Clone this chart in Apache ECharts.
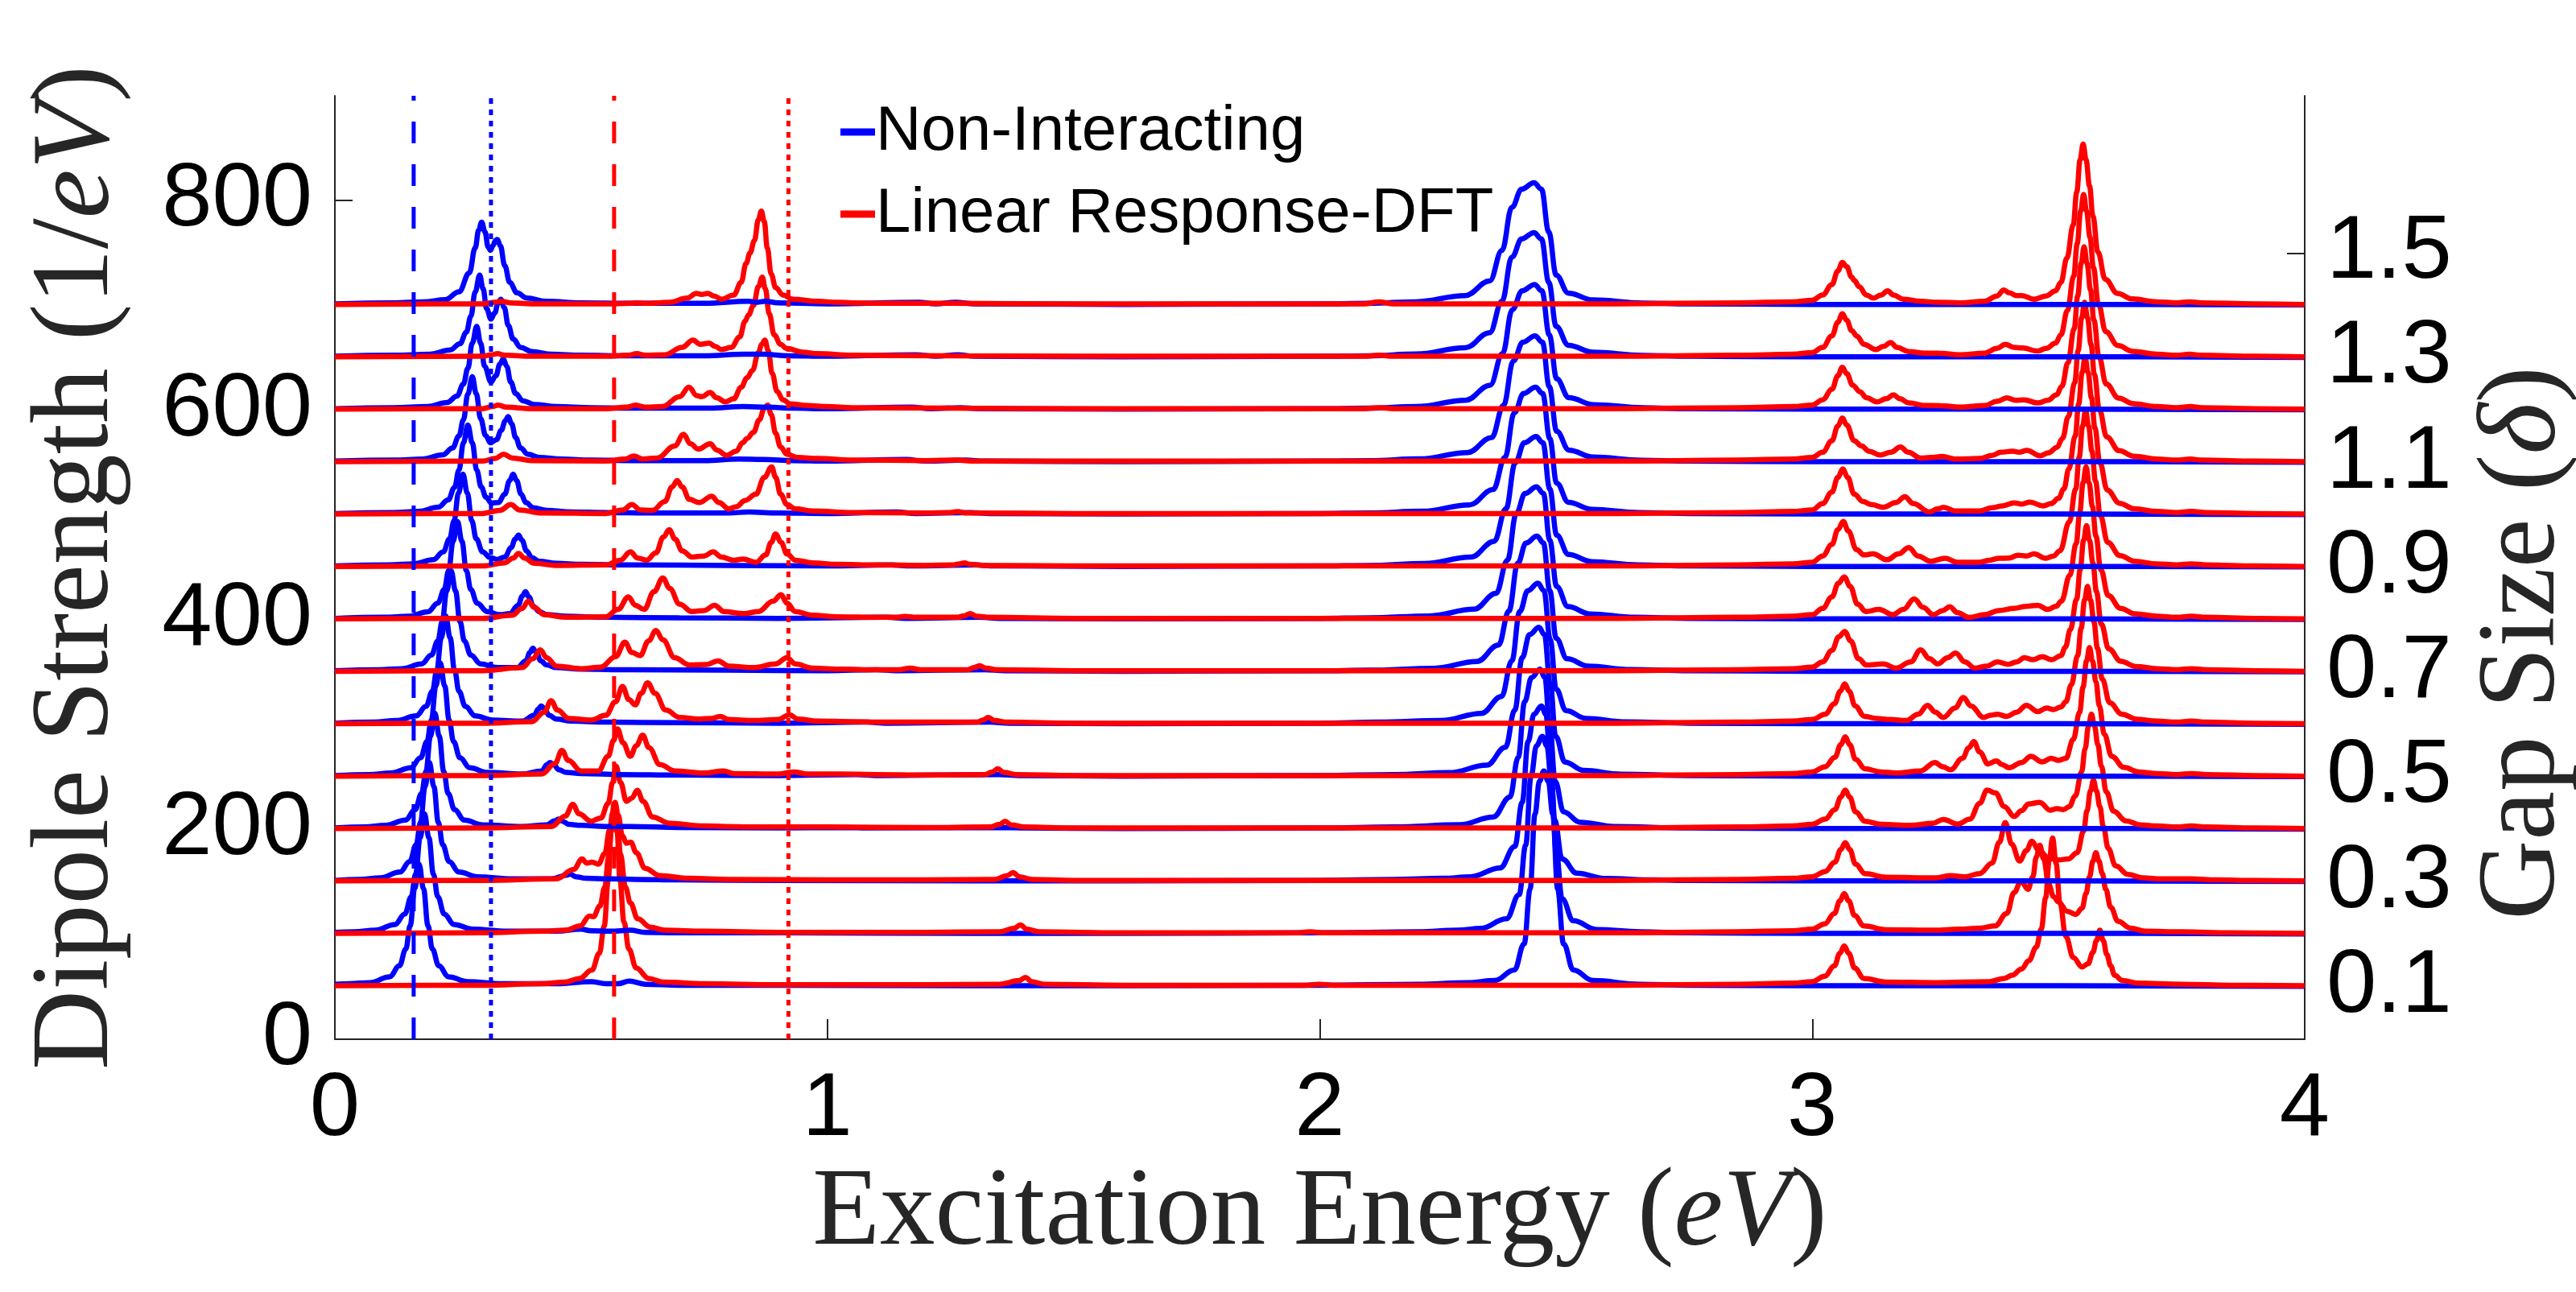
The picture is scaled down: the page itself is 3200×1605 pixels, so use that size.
<!DOCTYPE html>
<html>
<head>
<meta charset="utf-8">
<title>Dipole strength spectra vs gap size</title>
<script src="https://cdn.jsdelivr.net/npm/echarts@6/dist/echarts.min.js"></script>
<style>
  html, body { margin: 0; padding: 0; background: #fff; overflow: hidden; }
  #chart { width: 3200px; height: 1605px; }
</style>
</head>
<body>
<div id="chart"></div>
<script>
// gap size (delta) of each stacked pair of spectra, bottom to top
const gaps = [0.1, 0.2, 0.3, 0.4, 0.5, 0.6, 0.7, 0.8, 0.9, 1.0, 1.1, 1.2, 1.3, 1.4]

// spectra above their own baseline: [excitation energy (eV), dipole strength (1/eV)]
const nonInteracting = [
  // 0.1
  [[0,2.5],[0.03,3],[0.071,4],[0.111,9.5],[0.131,20],[0.144,36],[0.153,58.5],[0.162,93.5],[0.171,117],[0.18,93.5],[0.189,58.5],[0.198,36],[0.211,20],[0.231,9.5],[0.27,5],[0.34,3],[0.45,3],[0.52,5],[0.55,3],[0.575,3],[0.598,5.5],[0.63,2.5],[0.7,1.5],[0.9,1.5],[1.3,1],[1.6,1],[2.0,1.5],[2.2,2.5],[2.3,4],[2.355,6],[2.395,16],[2.415,41],[2.427,93],[2.437,165],[2.446,196],[2.455,206],[2.464,196],[2.473,165],[2.483,93],[2.495,41],[2.515,16],[2.555,6],[2.65,2.5],[2.75,1.5],[3.0,1],[3.5,1],[4,0.5]],
  // 0.2
  [[0,2],[0.04,2.5],[0.082,4],[0.122,9.5],[0.142,19.5],[0.155,36],[0.164,57.5],[0.173,92],[0.182,115],[0.191,92],[0.2,57.5],[0.209,36],[0.222,19.5],[0.242,9.5],[0.28,5],[0.35,3],[0.45,3],[0.5,5],[0.52,3.5],[0.56,3],[0.6,4],[0.63,2],[0.7,1.5],[0.9,1.5],[1.3,1],[1.6,1],[2.0,1.5],[2.2,2.5],[2.28,4],[2.327,5.7],[2.379,15],[2.405,38],[2.418,85],[2.429,151],[2.44,180],[2.452,189],[2.461,180],[2.471,142],[2.48,79],[2.492,34],[2.515,13],[2.562,4.7],[2.65,2.5],[2.75,1.5],[3.0,1],[3.5,1],[4,0.5]],
  // 0.3
  [[0,1.5],[0.05,2.5],[0.092,4],[0.132,9.5],[0.152,19.5],[0.165,35.5],[0.174,57],[0.183,91],[0.192,114],[0.201,91],[0.21,57],[0.219,35.5],[0.232,19.5],[0.252,9.5],[0.29,5],[0.36,3],[0.44,3],[0.47,6.5],[0.478,7.5],[0.49,5],[0.51,3.5],[0.56,3],[0.61,2.5],[0.7,2],[0.9,1.5],[1.3,1],[1.6,1],[2.0,1.5],[2.15,2.5],[2.25,3.5],[2.306,5],[2.366,13.4],[2.396,34],[2.411,76],[2.423,134],[2.435,160],[2.45,168],[2.459,160],[2.468,118],[2.477,59],[2.492,22],[2.522,8.4],[2.58,3.4],[2.68,2],[2.75,1.5],[3.0,1],[3.5,1],[4,0.5]],
  // 0.4
  [[0,1.5],[0.06,2.5],[0.103,4],[0.143,9],[0.163,19],[0.176,34.5],[0.185,55.5],[0.194,89],[0.203,111],[0.212,89],[0.221,55.5],[0.23,34.5],[0.243,19],[0.263,9],[0.3,4.5],[0.38,3],[0.43,4.5],[0.447,8.5],[0.454,10],[0.462,8],[0.475,5],[0.5,4],[0.55,3],[0.6,3],[0.7,2],[0.9,1.5],[1.04,2],[1.08,1.5],[1.36,2],[1.4,1.5],[1.6,1],[2.0,1.5],[2.15,2.5],[2.284,4.6],[2.352,12],[2.386,31],[2.403,69],[2.416,122],[2.43,145],[2.447,153],[2.457,145],[2.467,99],[2.478,46],[2.495,17],[2.529,7],[2.597,3],[2.75,1.5],[3.0,1],[3.5,1],[4,0.5]],
  // 0.5
  [[0,1.5],[0.07,2.5],[0.114,4],[0.154,9],[0.174,18.5],[0.187,34],[0.196,54.5],[0.205,87],[0.214,109],[0.223,87],[0.232,54.5],[0.241,34],[0.254,18.5],[0.274,9],[0.31,4.5],[0.38,3],[0.42,6],[0.431,12],[0.437,14],[0.444,12],[0.455,7],[0.47,4.5],[0.5,3.5],[0.58,2.5],[0.7,2],[0.9,1.5],[1.06,2.5],[1.1,1.5],[1.35,2.5],[1.39,1.5],[1.6,1],[2.0,1.5],[2.15,2.5],[2.263,4.3],[2.339,11.4],[2.377,28.6],[2.396,64],[2.411,114],[2.426,136],[2.445,143],[2.456,136],[2.468,89],[2.479,39],[2.498,14.3],[2.536,6.4],[2.612,2.9],[2.75,1.5],[3.0,1],[3.5,1],[4,0.5]],
  // 0.6
  [[0,1.5],[0.08,2.5],[0.125,4],[0.165,8.5],[0.185,17.5],[0.198,32],[0.207,52],[0.216,83],[0.225,104],[0.234,83],[0.243,52],[0.252,32],[0.265,17.5],[0.285,8.5],[0.32,4.5],[0.38,3.5],[0.405,9],[0.413,15],[0.419,18],[0.426,15],[0.435,9],[0.45,5.5],[0.48,3.5],[0.55,2.5],[0.7,2],[0.9,1.5],[1.08,2.5],[1.12,1.5],[1.33,2.5],[1.37,1.5],[1.6,1],[2.0,1.5],[2.12,2.5],[2.246,4],[2.328,10.8],[2.369,27],[2.39,61],[2.406,108],[2.4225,128],[2.443,135],[2.455,128],[2.468,81],[2.48,34],[2.5,13.5],[2.541,6],[2.623,2.7],[2.75,1.5],[3.0,1],[3.5,1],[4,0.5]],
  // 0.7
  [[0,1.5],[0.09,2.5],[0.136,3.5],[0.176,8],[0.196,16.5],[0.209,30],[0.218,48.5],[0.227,77.6],[0.236,97],[0.245,77.6],[0.254,48.5],[0.263,30],[0.276,16.5],[0.296,8],[0.33,4.5],[0.37,4.5],[0.388,11],[0.396,19],[0.402,23],[0.409,19],[0.418,11],[0.43,7],[0.45,4.5],[0.5,3],[0.6,2.5],[0.8,2],[1.0,1.5],[1.1,2.5],[1.14,1.5],[1.32,2.5],[1.36,1.5],[1.6,1],[2.0,1.5],[2.1,2],[2.232,3.9],[2.319,10.4],[2.363,26],[2.384,58.5],[2.402,104],[2.419,123.5],[2.441,130],[2.454,123.5],[2.467,78],[2.48,32.5],[2.502,13],[2.545,5.9],[2.631,2.6],[2.75,1.5],[3.0,1],[3.5,1],[4,0.5]],
  // 0.8
  [[0,1.5],[0.1,2.5],[0.149,3.5],[0.189,7.8],[0.209,16],[0.222,29],[0.231,47],[0.24,75],[0.249,94],[0.258,75],[0.267,47],[0.276,29],[0.289,16],[0.309,8],[0.335,5],[0.355,6],[0.372,14],[0.381,23],[0.387,27],[0.394,22],[0.403,13],[0.415,8],[0.43,5],[0.47,3.5],[0.55,2.5],[0.7,2],[0.9,1.5],[1.12,2.5],[1.16,1.5],[1.31,2.5],[1.35,1.5],[1.6,1],[2.0,1.5],[2.1,2],[2.222,3.8],[2.313,10.2],[2.358,25.4],[2.381,57],[2.399,101.6],[2.417,120.7],[2.44,127],[2.454,120.7],[2.467,76],[2.481,32],[2.504,12.7],[2.549,5.7],[2.64,2.5],[2.75,1.5],[3.0,1],[3.5,1],[4,0.5]],
  // 0.9
  [[0,1.5],[0.11,2.5],[0.16,3.5],[0.2,7.5],[0.22,15],[0.233,27.5],[0.242,44.5],[0.251,71],[0.26,89],[0.269,71],[0.278,44.5],[0.287,27.5],[0.3,15],[0.315,9.5],[0.33,7.7],[0.345,10],[0.358,19],[0.366,27],[0.373,31],[0.38,26],[0.389,16],[0.4,9.5],[0.415,6],[0.45,4],[0.5,3],[0.6,2.5],[0.8,2],[1.0,1.5],[1.13,2.5],[1.17,1.5],[1.3,2.5],[1.34,1.5],[1.6,1],[2.0,1.5],[2.1,2],[2.213,3.8],[2.307,10],[2.354,25],[2.378,56],[2.397,100],[2.4155,119],[2.439,125],[2.453,119],[2.467,75],[2.481,31],[2.505,12.5],[2.552,5.6],[2.646,2.5],[2.75,1.5],[3.0,1],[3.5,1],[4,0.5]],
  // 1.0
  [[0,1.5],[0.12,2.5],[0.17,3.5],[0.21,7.5],[0.23,14.5],[0.243,26.5],[0.252,43],[0.261,69],[0.27,86],[0.279,69],[0.288,43],[0.297,27],[0.307,17],[0.318,11.5],[0.332,12],[0.345,20],[0.355,33],[0.362,39],[0.369,33],[0.378,20],[0.388,12],[0.403,7],[0.43,4.5],[0.48,3],[0.55,2.5],[0.65,2],[0.8,2],[0.84,3],[0.9,2],[1.0,1.5],[1.14,3],[1.18,1.5],[1.29,2.5],[1.33,1.5],[1.6,1],[2.0,1.5],[2.1,2],[2.208,3.7],[2.304,9.8],[2.352,24.4],[2.376,55],[2.395,97.6],[2.414,116],[2.438,122],[2.4525,116],[2.467,73],[2.481,30.5],[2.505,12.2],[2.553,5.5],[2.648,2.4],[2.75,1.5],[3.0,1],[3.5,1],[4,0.5]],
  // 1.1
  [[0,1.5],[0.12,2.5],[0.179,3.5],[0.219,7.5],[0.239,14],[0.252,25.5],[0.261,41],[0.27,65.5],[0.279,82],[0.287,66],[0.296,42],[0.306,26],[0.316,19],[0.328,22],[0.338,31],[0.346,40],[0.352,44],[0.359,37],[0.367,24],[0.377,14],[0.392,8],[0.415,5],[0.46,3.5],[0.52,2.5],[0.6,2],[0.75,2],[0.82,3.5],[0.87,3],[0.93,2],[1.0,1.5],[1.16,3],[1.2,1.5],[1.28,2.5],[1.32,1.5],[1.6,1],[2.0,1.5],[2.1,2],[2.202,3.6],[2.3,9.7],[2.349,24],[2.373,54.5],[2.393,97],[2.4125,115],[2.437,121],[2.452,115],[2.466,72.6],[2.481,30],[2.506,12],[2.555,5.4],[2.653,2.4],[2.75,1.5],[3.0,1],[3.5,1],[4,0.5]],
  // 1.2
  [[0,1.5],[0.12,2.5],[0.188,3.5],[0.228,7.5],[0.248,13.5],[0.261,25],[0.27,40],[0.279,64],[0.288,80],[0.296,64],[0.304,42],[0.317,27],[0.327,33],[0.335,44],[0.342,49],[0.349,42],[0.357,27],[0.367,16],[0.382,9],[0.405,5.5],[0.45,3.5],[0.52,2.5],[0.6,2],[0.76,2],[0.83,3.5],[0.88,3],[0.93,2],[1.0,1.5],[1.17,3],[1.21,1.5],[1.27,2.5],[1.31,1.5],[1.6,1],[2.0,1.5],[2.1,2],[2.196,3.6],[2.296,9.6],[2.346,24],[2.371,54],[2.391,96],[2.411,114],[2.436,120],[2.451,114],[2.466,72],[2.481,30],[2.506,12],[2.556,5.4],[2.656,2.4],[2.75,1.5],[3.0,1],[3.5,1],[4,0.5]],
  // 1.3
  [[0,1.5],[0.12,2.5],[0.194,3.5],[0.234,7.5],[0.254,13.5],[0.267,24.5],[0.276,39.5],[0.285,63],[0.294,79],[0.301,66],[0.308,47],[0.317,37],[0.325,43],[0.331,52],[0.337,56],[0.344,48],[0.352,31],[0.362,18],[0.377,10],[0.4,6],[0.44,3.5],[0.5,2.5],[0.6,2],[0.75,2],[0.83,3.5],[0.87,3.5],[0.92,2],[1.0,1.5],[1.18,3],[1.22,1.5],[1.265,3],[1.3,1.5],[1.6,1],[2.0,1.5],[2.1,2],[2.195,3.6],[2.295,9.6],[2.345,24],[2.37,54],[2.39,96],[2.41,113.5],[2.435,119.5],[2.45,113.5],[2.465,72],[2.48,30],[2.505,12],[2.555,5.4],[2.655,2.4],[2.75,1.5],[3.0,1],[3.5,1],[4,0.5]],
  // 1.4
  [[0,1.5],[0.12,2.5],[0.18,3.5],[0.224,5.5],[0.252,13],[0.273,31],[0.285,55],[0.292,72],[0.298,79.5],[0.305,70],[0.311,56],[0.316,52.6],[0.321,57],[0.326,62],[0.33,63],[0.336,57],[0.345,38],[0.355,22],[0.37,12],[0.39,7],[0.43,4],[0.5,2.5],[0.6,2],[0.75,2],[0.84,4],[0.857,3],[0.874,4],[0.9,2.5],[1.0,1.5],[1.186,3],[1.22,1.5],[1.26,3],[1.3,1.5],[1.6,1],[2.0,1.5],[2.1,2],[2.195,3.5],[2.295,9.4],[2.345,23.4],[2.37,52.6],[2.39,93.6],[2.41,111],[2.435,117],[2.45,111],[2.465,70],[2.48,29],[2.505,11.7],[2.555,5.3],[2.655,2.3],[2.75,1.5],[3.0,1],[3.5,1],[4,0.5]]
]

const lrDft = [
  // 0.1
  [[0,1],[0.3,1.5],[0.42,3],[0.467,4.5],[0.497,8],[0.522,16],[0.537,32],[0.547,58],[0.555,101],[0.561,148],[0.567,175],[0.573,148],[0.579,101],[0.587,62],[0.597,36],[0.612,18],[0.637,8],[0.667,4.5],[0.75,3],[0.9,2],[1.2,2],[1.35,2.5],[1.39,6],[1.402,9],[1.415,5],[1.44,2.5],[1.6,1.5],[1.97,1.5],[1.999,2.5],[2.03,1.5],[2.6,1.5],[2.85,2.5],[2.96,3.5],[3.0,5],[3.025,10],[3.045,20],[3.056,32],[3.065,39],[3.074,32],[3.086,18],[3.105,8],[3.15,4.5],[3.25,4],[3.36,5],[3.39,8],[3.406,11],[3.425,17],[3.44,25],[3.455,38],[3.465,55],[3.474,85],[3.481,120],[3.488,142],[3.495,118],[3.503,80],[3.515,48],[3.53,28],[3.548,19],[3.56,22],[3.57,33],[3.577,44],[3.584,54],[3.591,44],[3.598,31],[3.606,20],[3.614,11],[3.63,6],[3.66,3.5],[3.75,2.5],[3.85,1.5],[4,1]],
  // 0.2
  [[0,1],[0.3,1.5],[0.42,3],[0.468,4],[0.498,8],[0.517,17.5],[0.525,17],[0.538,27],[0.548,45],[0.556,74],[0.562,106],[0.568,125],[0.574,106],[0.58,76],[0.59,45],[0.6,30],[0.615,15],[0.64,7],[0.67,4],[0.75,3],[0.9,2],[1.2,2],[1.35,2.5],[1.38,6],[1.392,9],[1.405,5],[1.43,2.5],[1.6,1.5],[1.95,1.5],[1.98,2.5],[2.01,1.5],[2.6,1.5],[2.85,2.5],[2.96,3.5],[3.0,5],[3.025,10],[3.045,20],[3.056,32],[3.065,39],[3.074,32],[3.086,18],[3.105,8],[3.15,4.5],[3.25,4],[3.296,5],[3.34,6],[3.371,8],[3.395,20],[3.41,40],[3.424,51],[3.438,43],[3.448,55],[3.455,74],[3.462,85],[3.47,72],[3.48,48],[3.49,36],[3.5,31],[3.518,22],[3.535,19],[3.548,25],[3.556,39],[3.563,55],[3.57,70],[3.576,78],[3.582,70],[3.589,58],[3.596,43],[3.606,26],[3.621,12.5],[3.646,6],[3.676,3],[3.75,2.5],[3.85,1.5],[4,1]],
  // 0.3
  [[0,1],[0.3,1.5],[0.45,3],[0.485,12],[0.502,22],[0.511,18],[0.522,19],[0.535,17],[0.548,27],[0.558,50],[0.564,66],[0.569,76],[0.575,64],[0.584,44],[0.592,37],[0.601,38],[0.612,28],[0.63,13],[0.66,6],[0.72,3.5],[0.8,2.5],[1.0,2],[1.2,2],[1.34,2.5],[1.365,6],[1.377,9],[1.39,5],[1.415,2.5],[1.5,1.5],[2.0,1.5],[2.6,1.5],[2.85,2.5],[2.96,3.5],[3.0,5],[3.026,10],[3.046,19],[3.058,31],[3.067,37.6],[3.076,31],[3.088,17],[3.107,8],[3.15,4.5],[3.25,4],[3.281,6],[3.31,5],[3.34,8],[3.365,18],[3.38,38],[3.392,56.8],[3.405,36],[3.421,20],[3.435,30],[3.446,39],[3.46,30],[3.48,23],[3.5,21],[3.52,22],[3.538,28],[3.551,48.5],[3.558,68],[3.565,87],[3.571,97],[3.577,87],[3.584,72],[3.591,53],[3.601,32],[3.616,15.5],[3.641,7.3],[3.671,3.9],[3.71,3],[3.77,3],[3.82,2],[3.9,1.5],[4,1]],
  // 0.4
  [[0,1],[0.3,1.5],[0.44,3],[0.468,13],[0.483,24],[0.496,15],[0.52,8],[0.54,11],[0.555,25],[0.564,45],[0.571,60.5],[0.58,45],[0.592,27],[0.603,30],[0.614,37.5],[0.626,27],[0.645,12],[0.68,6],[0.75,3.5],[0.791,3],[0.85,2.5],[1.0,2.5],[1.2,2],[1.33,2.5],[1.35,5],[1.361,8],[1.373,4.5],[1.4,2.5],[1.5,1.5],[2.0,1.5],[2.6,1.5],[2.85,2.5],[2.96,3.5],[3.0,5],[3.026,10],[3.046,19],[3.058,31],[3.067,37.6],[3.076,31],[3.088,17],[3.107,8],[3.14,5],[3.2,4],[3.245,6],[3.266,9.7],[3.296,5.3],[3.32,10],[3.34,25],[3.355,37.6],[3.372,35],[3.39,22],[3.41,12.6],[3.425,18],[3.439,24.4],[3.462,26],[3.483,18.5],[3.497,20],[3.51,19],[3.522,22],[3.534,32],[3.547,55],[3.554,77],[3.561,99],[3.567,110],[3.573,99],[3.58,81],[3.587,60.5],[3.597,36],[3.612,17.6],[3.637,8.3],[3.667,4.4],[3.7,3.5],[3.74,2.5],[3.77,3.5],[3.8,2.5],[3.9,1.5],[4,1]],
  // 0.5
  [[0,1],[0.3,1.5],[0.42,3],[0.447,13],[0.461,25.5],[0.474,16],[0.5,6],[0.535,6],[0.555,20],[0.566,35],[0.574,46],[0.585,33],[0.6,20],[0.612,30],[0.625,40],[0.638,28],[0.66,12],[0.69,6],[0.75,4],[0.789,6],[0.81,3.5],[0.9,3],[0.932,5],[0.96,3],[1.028,3],[1.1,2.5],[1.2,2],[1.32,2.5],[1.335,5],[1.346,8],[1.358,4.5],[1.385,2.5],[1.5,1.5],[2.0,1.5],[2.6,1.5],[2.85,2.5],[2.96,3.5],[3.0,5],[3.026,10],[3.046,19],[3.058,31],[3.067,38.5],[3.076,31],[3.088,17],[3.107,8],[3.14,5],[3.17,4],[3.22,6],[3.249,14],[3.265,10],[3.281,7],[3.305,18],[3.318,28],[3.328,34],[3.34,24],[3.357,12.6],[3.374,15.6],[3.385,12],[3.4,9],[3.425,14],[3.444,20],[3.467,14.5],[3.485,18],[3.5,16],[3.515,18],[3.53,36],[3.543,62],[3.55,86],[3.557,111],[3.563,123.5],[3.569,111],[3.576,91],[3.583,68],[3.593,41],[3.608,20],[3.633,9.3],[3.663,5],[3.7,3.5],[3.74,2.5],[3.77,3.5],[3.8,2.5],[3.9,1.5],[4,1]],
  // 0.6
  [[0,1],[0.3,1.5],[0.4,3],[0.425,12],[0.439,23],[0.452,14],[0.475,6],[0.52,4.5],[0.55,9],[0.57,22],[0.584,36.5],[0.597,24],[0.61,19],[0.622,30],[0.635,40],[0.65,30],[0.672,14],[0.7,7],[0.74,5.5],[0.765,6],[0.782,8],[0.8,5],[0.85,4],[0.9,5],[0.923,9.5],[0.94,5.5],[0.98,3.5],[1.05,3],[1.1,2.5],[1.179,2.5],[1.25,2.5],[1.305,2.5],[1.316,4.5],[1.327,7],[1.34,4],[1.365,2.5],[1.5,1.5],[2.0,1.5],[2.6,1.5],[2.85,2.5],[2.96,3.5],[3.0,5],[3.026,10],[3.045,20],[3.057,32],[3.066,39],[3.075,32],[3.087,18],[3.106,8],[3.13,6],[3.159,5],[3.191,4],[3.215,10],[3.234,18.5],[3.25,12],[3.266,7],[3.29,16],[3.307,26],[3.322,18],[3.348,7],[3.362,9],[3.376,10],[3.395,8],[3.415,12],[3.435,18.5],[3.458,12.6],[3.476,16],[3.49,14.5],[3.505,17],[3.515,22],[3.526,38],[3.539,66],[3.546,92],[3.553,119],[3.559,132],[3.565,119],[3.572,98],[3.579,73],[3.589,43.5],[3.604,21],[3.629,10],[3.659,5.3],[3.7,3.5],[3.74,2.5],[3.77,3.5],[3.8,2.5],[3.9,1.5],[4,1]],
  // 0.7
  [[0,1],[0.3,1.5],[0.38,4.5],[0.402,13],[0.417,21.5],[0.43,14],[0.45,6],[0.5,3.5],[0.54,5],[0.57,15],[0.589,28.7],[0.603,19],[0.62,16],[0.637,30],[0.652,40],[0.666,31],[0.69,14],[0.72,7],[0.755,7.5],[0.778,11],[0.8,6],[0.85,4.5],[0.895,8],[0.918,14],[0.935,8],[0.97,4],[1.03,3],[1.1,2.5],[1.145,2.5],[1.168,4],[1.19,2.5],[1.285,2.5],[1.298,4.5],[1.309,6.4],[1.322,4],[1.345,2.5],[1.5,1.5],[2.0,1.5],[2.6,1.5],[2.85,2.5],[2.96,3.5],[3.0,5],[3.021,10],[3.04,21],[3.054,34],[3.066,39],[3.078,30],[3.094,13],[3.11,7],[3.144,8],[3.17,4],[3.2,10],[3.22,21.5],[3.238,13],[3.255,8],[3.275,14],[3.291,18.5],[3.31,10],[3.33,4],[3.355,6],[3.376,10],[3.398,7.7],[3.415,10],[3.431,14],[3.448,12],[3.467,15],[3.486,12],[3.505,16],[3.514,24],[3.524,40.6],[3.537,70],[3.544,98],[3.551,126],[3.557,140],[3.563,126],[3.57,104],[3.577,77],[3.587,46],[3.602,22.4],[3.627,10.5],[3.657,5.6],[3.7,3.5],[3.74,2.5],[3.77,3.5],[3.8,2.5],[3.9,1.5],[4,1]],
  // 0.8
  [[0,1],[0.3,1.5],[0.36,4.5],[0.38,11],[0.393,18],[0.405,12],[0.425,5],[0.47,2.5],[0.55,3],[0.575,10],[0.596,22],[0.61,14],[0.628,10],[0.648,27],[0.666,40],[0.68,30],[0.7,15],[0.725,8],[0.75,9],[0.771,14],[0.79,8],[0.83,6],[0.86,8],[0.89,18],[0.906,24],[0.918,16],[0.935,8],[0.97,4.5],[1.02,3],[1.1,2.5],[1.14,2.5],[1.158,3.4],[1.18,2.5],[1.265,2.5],[1.278,4],[1.29,6],[1.303,3.5],[1.33,2.5],[1.5,1.5],[2.0,1.5],[2.6,1.5],[2.85,2.5],[2.96,3.5],[3.0,5],[3.021,11],[3.04,22],[3.053,35],[3.065,41],[3.077,32],[3.092,15],[3.109,8],[3.135,10],[3.164,5],[3.185,10],[3.207,20],[3.225,12],[3.246,5],[3.265,9],[3.279,12.6],[3.295,7],[3.318,2.4],[3.35,5],[3.379,9],[3.41,11],[3.435,13],[3.458,14],[3.478,10],[3.495,13],[3.506,18],[3.523,42.5],[3.536,73],[3.543,102],[3.55,131],[3.556,146],[3.562,131],[3.569,108],[3.576,80],[3.586,48],[3.601,23.4],[3.626,11],[3.656,5.8],[3.7,3.5],[3.74,2.5],[3.77,3.5],[3.8,2.5],[3.9,1.5],[4,1]],
  // 0.9
  [[0,1],[0.3,1.5],[0.345,4.5],[0.362,9],[0.373,13.5],[0.385,9],[0.405,4],[0.45,2],[0.55,2.5],[0.58,7],[0.6,15],[0.615,9],[0.633,7],[0.652,14],[0.667,29],[0.679,36],[0.691,27],[0.705,16],[0.725,10],[0.75,11],[0.768,15],[0.785,10],[0.81,7],[0.829,8],[0.855,5],[0.875,12],[0.886,24],[0.895,32],[0.906,24],[0.918,13],[0.935,7],[0.97,4.5],[1.02,3],[1.1,2.5],[1.2,2],[1.255,2.5],[1.268,3.5],[1.278,4.4],[1.29,3],[1.32,2],[1.5,1.5],[2.0,1.5],[2.6,1.5],[2.85,2.5],[2.96,3.5],[3.0,5],[3.021,11],[3.04,22],[3.052,36],[3.063,44],[3.073,35],[3.09,17],[3.105,12],[3.123,13],[3.152,7.4],[3.175,13],[3.196,19],[3.215,11],[3.24,6],[3.27,8.8],[3.295,5],[3.34,5],[3.36,7],[3.38,8.8],[3.4,9],[3.418,11.8],[3.435,11],[3.45,13],[3.474,8.8],[3.49,11],[3.503,16],[3.522,43.5],[3.535,75],[3.542,105],[3.549,135],[3.555,150],[3.561,135],[3.568,111],[3.575,82.5],[3.585,49.5],[3.6,24],[3.625,11.3],[3.655,6],[3.7,3.5],[3.74,2.5],[3.77,3.5],[3.8,2.5],[3.9,1.5],[4,1]],
  // 1.0
  [[0,1],[0.3,1.5],[0.335,4.5],[0.357,10],[0.375,5],[0.42,2],[0.55,1.5],[0.585,5],[0.603,10],[0.62,5],[0.645,4.5],[0.67,13],[0.685,27],[0.695,33],[0.705,27],[0.72,15],[0.74,12],[0.765,18],[0.78,12],[0.8,6],[0.815,8],[0.833,14],[0.855,20],[0.872,36],[0.887,46],[0.895,36],[0.905,20],[0.918,10],[0.935,6],[0.97,4],[1.05,2.5],[1.2,2],[1.25,2.5],[1.265,3.4],[1.28,2],[1.5,1.5],[2.0,1.5],[2.6,1.5],[2.85,2.5],[2.96,3.5],[3.0,5],[3.021,11],[3.04,22],[3.052,36],[3.062,44],[3.072,36],[3.085,20],[3.103,13],[3.12,10],[3.144,7.4],[3.17,12],[3.188,17.6],[3.205,11],[3.238,3],[3.255,6],[3.267,7.4],[3.29,4],[3.34,4],[3.365,7],[3.386,8.8],[3.41,11.7],[3.425,10.5],[3.442,12.4],[3.469,8.8],[3.485,11],[3.5,16],[3.511,25],[3.521,44],[3.534,75.5],[3.541,106],[3.548,136],[3.554,151],[3.56,136],[3.567,112],[3.574,83],[3.584,50],[3.599,24],[3.624,11.3],[3.654,6],[3.7,3.5],[3.74,2.5],[3.77,3.5],[3.8,2.5],[3.9,1.5],[4,1]],
  // 1.1
  [[0,1],[0.3,1.5],[0.325,4],[0.343,8],[0.36,4.5],[0.4,2],[0.55,1.5],[0.59,3.5],[0.607,6.4],[0.625,3.5],[0.655,4.5],[0.69,16],[0.708,27],[0.722,18],[0.738,13],[0.762,18],[0.776,12],[0.795,7],[0.815,11],[0.828,19],[0.837,23],[0.85,29],[0.862,41],[0.872,52],[0.879,55],[0.886,46],[0.895,28],[0.905,15],[0.918,8],[0.94,5],[0.98,4],[1.05,2.5],[1.2,2],[1.26,2.5],[1.3,1.5],[1.5,1.5],[2.0,1.5],[2.6,1.5],[2.85,2.5],[2.96,3.5],[3.0,5],[3.021,10],[3.04,21],[3.052,35],[3.061,42.6],[3.07,36],[3.085,21],[3.1,16],[3.115,11],[3.138,7.4],[3.16,10],[3.179,15],[3.195,10],[3.22,4.4],[3.24,5],[3.264,5.9],[3.29,3.5],[3.34,4],[3.365,7],[3.383,10],[3.407,11],[3.42,10],[3.436,11.7],[3.463,6.5],[3.48,9.5],[3.497,14.7],[3.508,23],[3.52,44],[3.533,76.5],[3.54,107],[3.547,138],[3.553,153],[3.559,138],[3.566,113],[3.573,84],[3.583,50.5],[3.598,24.5],[3.623,11.5],[3.653,6.1],[3.7,3.5],[3.74,2.5],[3.768,3.5],[3.79,2.5],[3.9,1.5],[4,1]],
  // 1.2
  [[0,1],[0.3,1.5],[0.32,3.5],[0.332,5],[0.348,3],[0.4,1.5],[0.55,1.5],[0.593,3],[0.611,5],[0.63,3],[0.665,3.5],[0.7,13],[0.719,22],[0.735,14],[0.745,13],[0.762,17],[0.775,12],[0.793,8],[0.81,11],[0.825,22],[0.837,31],[0.848,38],[0.86,55],[0.867,63],[0.873,67],[0.88,57],[0.888,35],[0.898,18],[0.91,10],[0.925,6],[0.96,4.5],[1.0,3.5],[1.05,2.5],[1.25,2],[1.5,1.5],[2.0,1.5],[2.09,1.5],[2.12,2.5],[2.15,1.5],[2.6,1.5],[2.85,2.5],[2.96,3.5],[3.0,5],[3.021,10],[3.04,20],[3.052,33],[3.061,41],[3.07,35],[3.082,24],[3.097,17.6],[3.11,12],[3.132,8],[3.15,11],[3.165,14.7],[3.178,11],[3.196,7],[3.23,4.5],[3.26,4.4],[3.3,3],[3.35,4.5],[3.375,8.5],[3.395,11.8],[3.413,9.5],[3.43,10],[3.458,7],[3.478,9.5],[3.496,14.7],[3.507,23],[3.519,45],[3.532,78],[3.539,109],[3.546,140],[3.552,156],[3.558,140],[3.565,115],[3.572,86],[3.582,51.5],[3.597,25],[3.622,11.7],[3.652,6.2],[3.7,3.5],[3.74,2.5],[3.768,3.5],[3.79,2.5],[3.9,1.5],[4,1]],
  // 1.3
  [[0,1],[0.3,1.5],[0.318,3],[0.33,4],[0.345,2.5],[0.4,1.5],[0.55,1.5],[0.595,2.5],[0.613,4],[0.63,2.5],[0.67,3],[0.705,10],[0.727,17],[0.742,13],[0.76,14],[0.772,11],[0.785,8],[0.805,10],[0.822,20],[0.833,35],[0.84,41],[0.85,50],[0.86,68],[0.868,77],[0.874,66],[0.882,42],[0.892,22],[0.905,13],[0.917,9],[0.95,5.5],[0.98,4],[1.05,2.5],[1.25,2],[1.5,1.5],[2.0,1.5],[2.09,1.5],[2.12,2.5],[2.15,1.5],[2.6,1.5],[2.85,2.5],[2.96,3.5],[3.0,5],[3.021,10],[3.04,21],[3.052,34],[3.061,42],[3.07,36],[3.08,26],[3.091,20.6],[3.105,13],[3.129,8],[3.145,11],[3.159,14.7],[3.172,10],[3.196,6],[3.23,4.5],[3.257,4.4],[3.3,3],[3.35,4.5],[3.375,9],[3.392,13],[3.41,10],[3.428,9.4],[3.457,6.5],[3.475,9],[3.494,14],[3.505,22],[3.518,45],[3.531,78],[3.538,109],[3.545,140],[3.551,156],[3.557,140],[3.564,115],[3.571,86],[3.581,51.5],[3.596,25],[3.621,11.7],[3.651,6.2],[3.7,3.5],[3.74,2.5],[3.766,3.5],[3.79,2.5],[3.9,1.5],[4,1]],
  // 1.4
  [[0,1],[0.3,1.5],[0.325,3],[0.338,4],[0.355,2.5],[0.4,1.5],[0.55,1.5],[0.6,2],[0.613,2.5],[0.63,2],[0.68,3],[0.715,7],[0.734,11.5],[0.745,10.5],[0.757,11.5],[0.77,9],[0.785,6],[0.81,10],[0.825,22],[0.835,40],[0.843,50],[0.852,62],[0.86,82],[0.866,90],[0.872,80],[0.878,55],[0.886,30],[0.895,17],[0.91,10],[0.93,6],[0.98,4],[1.02,3],[1.05,2.5],[1.1,2],[1.25,2],[1.5,1.5],[2.0,1.5],[2.09,1.5],[2.12,3.4],[2.15,1.5],[2.6,1.5],[2.85,2.5],[2.96,3.5],[3.0,5],[3.021,10],[3.04,20],[3.052,33],[3.061,41],[3.07,37],[3.08,27],[3.086,23.5],[3.095,18],[3.11,10],[3.124,7],[3.14,10],[3.153,14],[3.165,10],[3.185,6],[3.22,4],[3.255,3],[3.3,2.5],[3.35,4],[3.375,9],[3.389,14.7],[3.4,12],[3.415,9.4],[3.426,9.4],[3.45,6],[3.475,9],[3.494,14],[3.505,22],[3.517,45],[3.53,77],[3.537,108],[3.544,139],[3.55,154],[3.556,139],[3.563,114],[3.57,85],[3.58,51],[3.595,25],[3.62,11.5],[3.65,6.2],[3.7,3.5],[3.74,2.5],[3.766,3.5],[3.79,2.5],[3.9,1.5],[4,1]]
]

// energies of the vertical guide lines (eV)
const guideEnergies = [0.16, 0.317, 0.567, 0.921]

const strengthTicks = [0, 200, 400, 600, 800]
const gapTicks = [0.1, 0.3, 0.5, 0.7, 0.9, 1.1, 1.3, 1.5]

// ---- presentation ----
const BLUE = '#0000ff'
const RED = '#ff0000'
const AXIS = '#262626'
const SANS = 'Liberation Sans, Arial, sans-serif'
const SERIF = 'Liberation Serif, Times New Roman, serif'
const strengthPerGap = 500   // baseline offset: gap 0.1 sits at 50 (1/eV)
const strengthMax = 900

const guideStyles = [
  { color: BLUE, type: [27, 26] },
  { color: BLUE, type: [7, 7] },
  { color: RED, type: [27, 26] },
  { color: RED, type: [7, 7] }
]

function spectrumSeries(name, points, base, color) {
  return {
    name: name,
    type: 'line',
    data: points.map(p => [p[0], p[1] + base]),
    showSymbol: false,
    smooth: 0.4,
    smoothMonotone: 'x',
    color: color,
    lineStyle: { color: color, width: 6.5 },
    silent: true
  }
}

const series = []
gaps.forEach((gap, i) => {
  const base = gap * strengthPerGap
  series.push(spectrumSeries('Non-Interacting', nonInteracting[i], base, BLUE))
  series.push(spectrumSeries('Linear Response-DFT', lrDft[i], base, RED))
})
guideEnergies.forEach((e, k) => {
  series.push({
    type: 'line',
    data: [[e, 0], [e, strengthMax]],
    showSymbol: false,
    silent: true,
    lineStyle: { color: guideStyles[k].color, type: guideStyles[k].type, width: 5 }
  })
})

const titleStyle = {
  fontFamily: SERIF, fontSize: 137, color: AXIS,
  rich: { i: { fontFamily: SERIF, fontSize: 137, fontStyle: 'italic', color: AXIS } }
}

const chart = echarts.init(document.getElementById('chart'))
chart.setOption({
  animation: false,
  backgroundColor: '#fff',
  grid: { left: 416, right: 337, top: 119, bottom: 314, outerBoundsMode: 'none' },
  legend: {
    data: [
      { name: 'Non-Interacting', itemStyle: { color: BLUE } },
      { name: 'Linear Response-DFT', itemStyle: { color: RED } }
    ],
    orient: 'vertical',
    left: 1039,
    top: 119,
    icon: 'rect',
    itemWidth: 43,
    itemHeight: 9,
    itemGap: 22,
    textStyle: { fontFamily: SANS, fontSize: 78, color: '#000', lineHeight: 80, padding: [0, 0, 0, -4] }
  },
  xAxis: {
    type: 'value',
    min: 0,
    max: 4,
    interval: 1,
    name: 'Excitation Energy ({i|eV})',
    nameLocation: 'middle',
    nameGap: 150,
    nameTextStyle: titleStyle,
    axisLine: { lineStyle: { color: AXIS, width: 2 } },
    axisTick: { inside: true, length: 25, lineStyle: { color: AXIS, width: 2 } },
    axisLabel: { fontFamily: SANS, fontSize: 112, color: '#000', margin: 32 },
    splitLine: { show: false }
  },
  yAxis: [
    {
      type: 'value',
      min: 0,
      max: strengthMax,
      name: 'Dipole Strength (1/{i|eV})',
      nameLocation: 'middle',
      nameRotate: 90,
      nameGap: 250,
      nameTextStyle: titleStyle,
      axisLine: { show: true, lineStyle: { color: AXIS, width: 2 } },
      axisTick: { show: true, inside: true, length: 22, customValues: strengthTicks, lineStyle: { color: AXIS, width: 2 } },
      axisLabel: { fontFamily: SANS, fontSize: 112, color: '#000', margin: 28, customValues: strengthTicks },
      splitLine: { show: false }
    },
    {
      type: 'value',
      position: 'right',
      min: 0,
      max: strengthMax / strengthPerGap,
      name: 'Gap Size ({i|δ})',
      nameLocation: 'middle',
      nameRotate: 90,
      nameGap: 205,
      nameTextStyle: Object.assign({}, titleStyle, { padding: [0, 188, 0, 0] }),
      axisLine: { show: true, lineStyle: { color: AXIS, width: 2 } },
      axisTick: { show: true, inside: true, length: 22, customValues: gapTicks, lineStyle: { color: AXIS, width: 2 } },
      axisLabel: {
        fontFamily: SANS, fontSize: 112, color: '#000', margin: 27,
        customValues: gapTicks,
        formatter: v => Number(v).toFixed(1)
      },
      splitLine: { show: false }
    }
  ],
  series: series
})
</script>
</body>
</html>
